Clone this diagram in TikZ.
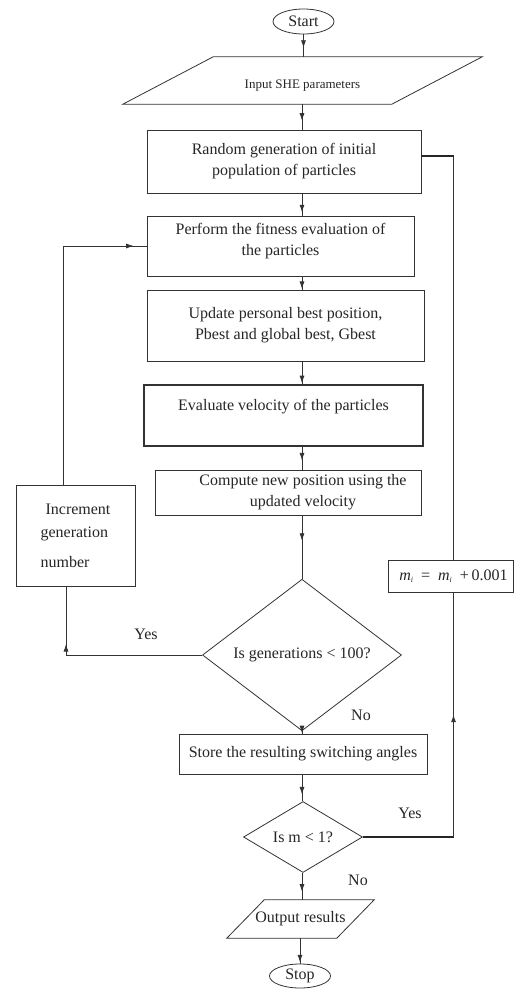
\documentclass[tikz,border=0pt]{standalone}
\usepackage{fontspec}
\setmainfont{Liberation Serif}
\usetikzlibrary{arrows.meta,shapes.geometric,decorations.markings}
\begin{document}
\begin{tikzpicture}[x=1pt,y=-1pt,
  every node/.style={text=black!85, font=\fontsize{16}{21}\selectfont},
  ln/.style={draw=black!80, line width=0.8pt},
  box/.style={ln, rectangle, inner sep=0pt, align=center},
  term/.style={ln, ellipse, inner sep=0pt},
  dec/.style={ln, diamond, inner sep=0pt, align=center},
  flowline/.style={draw=black!80, line width=0.8pt},
  thickline/.style={draw=black!85, line width=1.5pt},
  arrowat/.style={postaction={decorate}, decoration={markings, mark=at position #1 with {\arrow{Latex[length=7.5pt,width=5pt]}}}},
]
\fill[white] (0,0) rectangle (515,989);
\useasboundingbox (0,0) rectangle (515,989);

% columns
\coordinate (col) at (302,0);
\coordinate (lx1) at (66,0);
\coordinate (lx2) at (63,0);
\coordinate (rx) at (453.5,0);

% terminals
\node[term, minimum width=61pt, minimum height=25pt] (start) at (303.5,21.5) {Start};
\node[term, minimum width=61pt, minimum height=24pt] (stop) at (300,976) {Stop};

% input parallelogram
\node[minimum width=359pt, minimum height=47pt, inner sep=0pt,
      label={[font=\fontsize{13}{16}\selectfont, yshift=-5pt]center:Input SHE parameters}] (input) at (302.5,80.5) {};
\draw[ln] (input.south west) -- ++(269,0) -- (input.north east) -- ++(-269,0) -- cycle;

% process boxes
\node[box, minimum width=274pt, minimum height=63pt] (b1) at (284,161.5) {Random generation of initial\\population of particles};
\node[box, minimum width=267pt, minimum height=60pt] (b2) at (280.5,246) {Perform the fitness evaluation of\\the particles\\[-8pt]\mbox{}};
\node[box, minimum width=277pt, minimum height=71pt] (b3) at (285.5,325.5) {Update personal best position,\\Pbest and global best, Gbest};
\node[box, line width=1.4pt, minimum width=279pt, minimum height=61pt] (b4) at (283.5,415.5) {Evaluate velocity of the particles\\\mbox{}};
\node[box, minimum width=266pt, minimum height=45pt,
      label={[align=center, xshift=15pt]center:Compute new position using the\\updated velocity}] (b5) at (288,492.5) {};
\node[box, minimum width=119pt, minimum height=101pt, align=left] (inc) at (75.5,536) {\hspace*{5pt}Increment\\[2pt]generation\\[9pt]number};
\node[box, minimum width=125pt, minimum height=32pt] (mi) at (450.5,576) {\hspace*{6pt}\textit{m}\raisebox{-0.35ex}{\fontsize{8}{9}\selectfont\textit{i}}\enspace=\enspace\textit{m}\raisebox{-0.35ex}{\fontsize{8}{9}\selectfont\textit{i}}\enspace+\,0.001};
\node[box, minimum width=248pt, minimum height=40pt] (b6) at (303,754) {Store the resulting switching angles};

% decisions
\node[dec, minimum width=199pt, minimum height=107pt] (d1) at (302,655) {Is generations < 100?};
\node[dec, minimum width=119pt, minimum height=68pt] (d2) at (303,837) {Is m < 1?};

% output parallelogram
\node[minimum width=147pt, minimum height=38pt, inner sep=0pt] (out) at (300.5,919) {Output results};
\draw[ln] (out.south west) -- ++(110,0) -- (out.north east) -- ++(-110,0) -- cycle;

% branch labels
\node (yes1) at (146,634) {Yes};
\node (no1) at (361,715) {No};
\node (yes2) at (410,813) {Yes};
\node (no2) at (358,880) {No};

% main flow
\draw[flowline, arrowat=0.6] (start.south) -- (start.south |- input.north);
\draw[flowline, arrowat=0.65] (input.south -| col) -- (b1.north -| col);
\draw[flowline, arrowat=0.85] (b1.south -| col) -- (b2.north -| col);
\draw[flowline, arrowat=0.95] (b2.south -| col) -- (b3.north -| col);
\draw[flowline, arrowat=0.95] (b3.south -| col) -- (b4.north -| col);
\draw[flowline, arrowat=0.6] (b4.south -| col) -- (b5.north -| col);
\draw[flowline, arrowat=0.4] (b5.south -| col) -- (d1.north);
\draw[flowline, arrowat=0.85] (d1.south) -- (b6.north -| d1.south);
\draw[flowline, arrowat=0.75] (b6.south -| col) -- (d2.north -| col);
\draw[flowline, arrowat=0.7] (d2.south -| col) -- (out.north -| col);
\draw[flowline, arrowat=0.95] (out.south -| stop.north) -- (stop.north);

% left loop (Yes of d1)
\draw[flowline, arrowat=0.72] (d1.west) -- (d1.west -| lx1) -- (inc.south -| lx1);
\draw[flowline, arrowat=0.96] (inc.north -| lx2) -- (lx2 |- b2.west) -- (b2.west);

% right loop (Yes of d2)
\coordinate (b1r) at ([yshift=5.5pt]b1.east);
\draw[thickline] (d2.east) -- (d2.east -| rx);
\draw[flowline, arrowat=0.5] (d2.east -| rx) -- (mi.south -| rx);
\draw[flowline] (mi.north -| rx) -- (rx |- b1r);
\draw[thickline] (rx |- b1r) -- (b1r);
\end{tikzpicture}
\end{document}
